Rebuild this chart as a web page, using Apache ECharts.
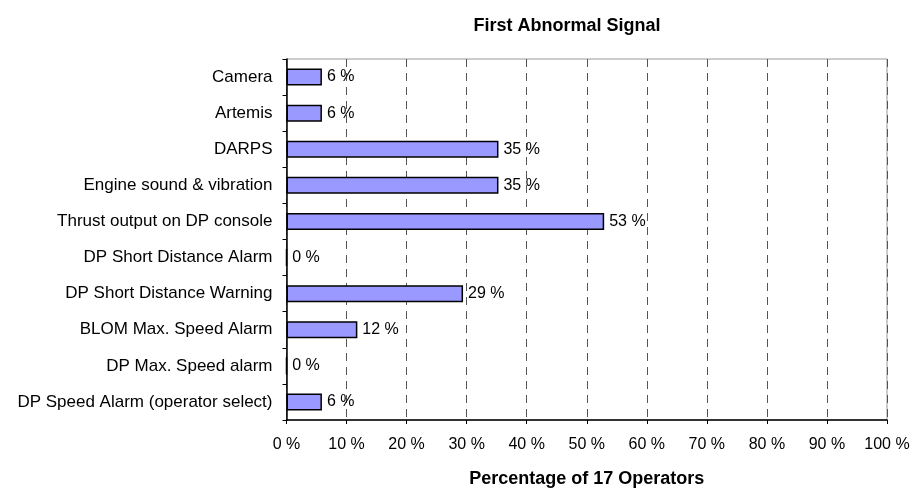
<!DOCTYPE html>
<html>
<head>
<meta charset="utf-8">
<script src="https://cdn.jsdelivr.net/npm/echarts@6/dist/echarts.min.js"></script>
<style>
  html, body { margin: 0; padding: 0; background: #fff; }
  #chart { width: 914px; height: 493px; }
</style>
</head>
<body>
<div id="chart"></div>
<script>
const categories = [
  'Camera',
  'Artemis',
  'DARPS',
  'Engine sound & vibration',
  'Thrust output on DP console',
  'DP Short Distance Alarm',
  'DP Short Distance Warning',
  'BLOM Max. Speed Alarm',
  'DP Max. Speed alarm',
  'DP Speed Alarm (operator select)'
]
// percentage of 17 operators
const values = [5.9, 5.9, 35.3, 35.3, 52.9, 0, 29.4, 11.8, 0, 5.9]
const xTicks = [0, 10, 20, 30, 40, 50, 60, 70, 80, 90, 100]

const font = '"Liberation Sans", Arial, sans-serif'

const myChart = echarts.init(document.getElementById('chart'))
const option = {
  backgroundColor: '#fff',
  animation: false,
  title: {
    text: 'First Abnormal Signal',
    left: 562,
    top: 12,
    textAlign: 'center',
    textStyle: { fontFamily: font, fontSize: 18, fontWeight: 'bold', color: '#000' }
  },
  grid: {
    left: 286.5,
    right: 27,
    top: 59,
    bottom: 67,
    show: true,
    borderColor: '#999',
    borderWidth: 1
  },
  xAxis: {
    type: 'value',
    min: xTicks[0],
    max: xTicks[xTicks.length - 1],
    interval: 10,
    name: 'Percentage of 17 Operators',
    nameLocation: 'middle',
    nameGap: 50,
    nameTextStyle: { fontFamily: font, fontSize: 18, fontWeight: 'bold', color: '#000' },
    axisLine: { show: true, lineStyle: { color: '#000', width: 1.5 } },
    axisTick: { show: true, length: 4, lineStyle: { color: '#000' } },
    axisLabel: {
      margin: 17,
      fontFamily: font,
      fontSize: 16,
      color: '#000',
      formatter: '{value} %'
    },
    splitLine: {
      show: true,
      lineStyle: { color: '#555', type: [8, 6], width: 1 }
    }
  },
  yAxis: {
    type: 'category',
    data: categories,
    inverse: true,
    axisLine: { show: true, lineStyle: { color: '#000', width: 1.5 } },
    axisTick: { show: true, length: 4, lineStyle: { color: '#000' } },
    axisLabel: { margin: 14, fontFamily: font, fontSize: 17, color: '#000' },
    splitLine: { show: false }
  },
  series: [
    {
      type: 'bar',
      data: values,
      barWidth: 17,
      itemStyle: { color: '#9999ff', borderColor: '#000', borderWidth: 1.5 },
      label: {
        show: true,
        position: 'right',
        distance: 5,
        fontFamily: font,
        fontSize: 16,
        color: '#000',
        formatter: (p) => Math.round(p.value) + ' %'
      }
    }
  ]
}
myChart.setOption(option)
</script>
</body>
</html>
